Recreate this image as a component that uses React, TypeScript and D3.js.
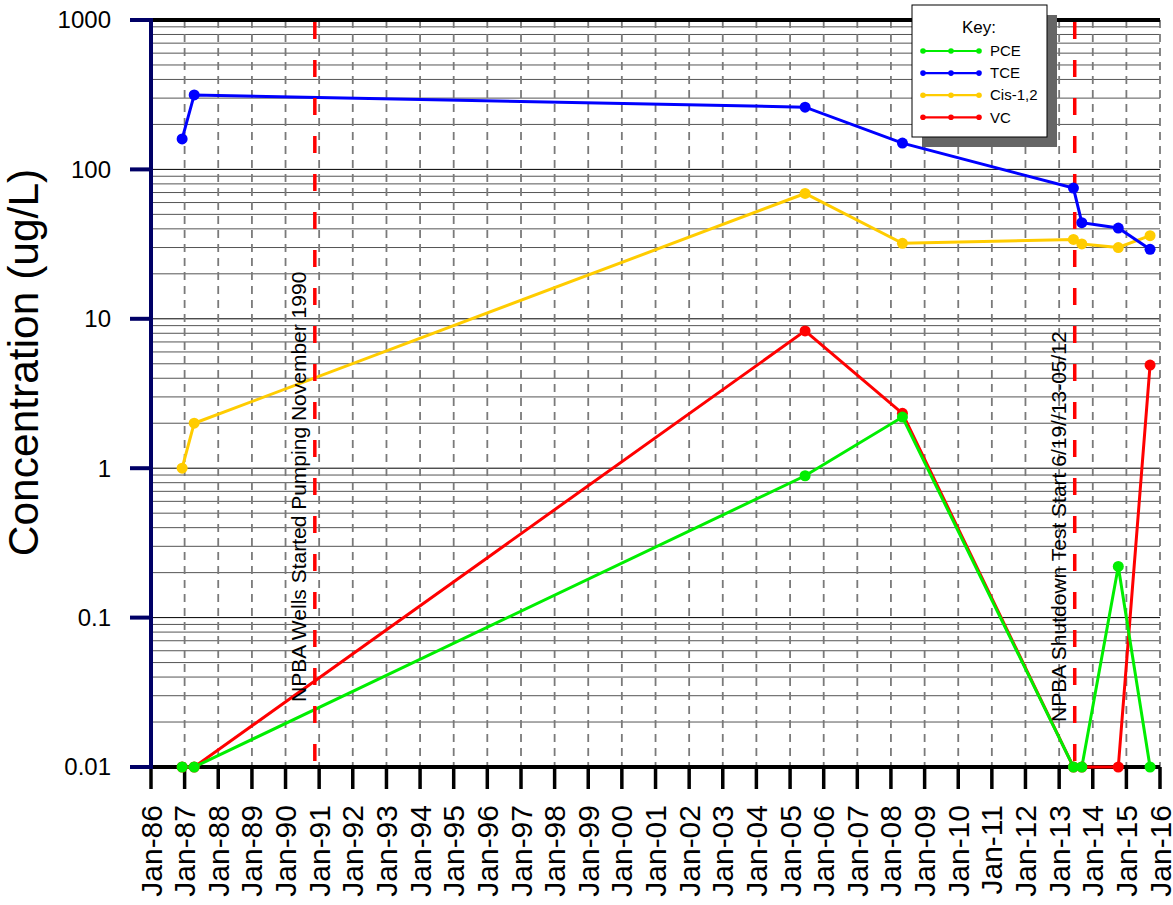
import React from "react";
import * as d3 from "d3";

// ---- data ----
const sampleDates = ["1986-12-05", "1987-04-15", "2005-06-13", "2008-05-05", "2013-06-05", "2013-09-04", "2014-10-05", "2015-09-15"];
const pceValues = [0.01, 0.01, 0.89, 2.2, 0.01, 0.01, 0.22, 0.01];
const tceValues = [160, 315, 261, 150, 75, 44, 40.5, 29.2];
const cisValues = [1.0, 2.0, 69, 32, 34, 31.7, 30, 36];
const vcValues = [0.01, 0.01, 8.3, 2.33, 0.01, 0.01, 0.01, 4.9];

const seriesNames = ["PCE", "TCE", "Cis-1,2", "VC"];
const seriesColors = ["#00ee00", "#0000ff", "#ffcc00", "#ff0000"];

const yTickValues = [0.01, 0.1, 1, 10, 100, 1000];
const yTickLabels = ["0.01", "0.1", "1", "10", "100", "1000"];

const eventDates = ["1990-11-15", "2013-06-19"];
const eventLabels = ["NPBA Wells Started Pumping November 1990", "NPBA Shutdown Test Start 6/19//13-05/12"];
const eventTextStart = [702, 722];

const xStart = "1986-01-01";
const xEnd = "2016-01-01";

const FONT = "'Liberation Sans', Arial, sans-serif";

export default function App() {
  const W = 1173, H = 905;
  const left = 151, right = 1160, top = 20, bottom = 767;
  const parse = d3.timeParse("%Y-%m-%d");
  const x = d3.scaleTime().domain([parse(xStart)!, parse(xEnd)!]).range([left, right]);
  const y = d3.scaleLog().domain([0.01, 1000]).range([bottom, top]);
  const dates = sampleDates.map((d) => parse(d)!);
  const allValues = [pceValues, tceValues, cisValues, vcValues];
  const years = x.ticks(d3.timeYear.every(1)!);
  const fmt = d3.timeFormat("%b-%y");

  // minor grid values
  const minor: number[] = [];
  for (let e = -2; e < 3; e++) {
    for (let m = 2; m <= 9; m++) minor.push(m * Math.pow(10, e));
  }
  const decades = [0.1, 1, 10, 100];

  const line = d3
    .line<[Date, number]>()
    .x((d) => x(d[0]))
    .y((d) => y(d[1]));

  const drawOrder = [3, 2, 1, 0];

  return (
    <svg width={W} height={H} style={{ position: "absolute", left: 0, top: 0, background: "#fff" }} fontFamily={FONT}>
      <rect x={0} y={0} width={W} height={H} fill="#fff" />
      {/* horizontal grid */}
      {minor.map((v, i) => (
        <line key={"m" + i} x1={left} x2={right} y1={y(v)} y2={y(v)} stroke="#555" strokeWidth={1} />
      ))}
      {decades.map((v, i) => (
        <line key={"d" + i} x1={left} x2={right} y1={y(v)} y2={y(v)} stroke="#000" strokeWidth={1} />
      ))}
      {/* vertical dashed grid */}
      {years.slice(1).map((d, i) => (
        <line key={"v" + i} x1={x(d)} x2={x(d)} y1={top} y2={bottom} stroke="#7a7a7a" strokeWidth={1.8} strokeDasharray="8,6" />
      ))}
      {/* top border */}
      <line x1={left} x2={right} y1={top} y2={top} stroke="#000" strokeWidth={4} />
      {/* bottom axis */}
      <line x1={left} x2={right} y1={bottom} y2={bottom} stroke="#000" strokeWidth={4} />
      {years.map((d, i) => (
        <line key={"xt" + i} x1={x(d)} x2={x(d)} y1={bottom} y2={bottom + 22} stroke="#000" strokeWidth={3.5} />
      ))}
      {years.map((d, i) => (
        <text
          key={"xl" + i}
          transform={`translate(${x(d)},805) rotate(-90)`}
          textAnchor="end"
          dy="0.35em"
          fontSize={30}
          fill="#000"
        >
          {fmt(d)}
        </text>
      ))}
      {/* left axis */}
      <line x1={left} x2={left} y1={top - 2} y2={bottom + 2} stroke="#000066" strokeWidth={4} />
      {yTickValues.map((v, i) => (
        <line key={"yt" + i} x1={130} x2={left} y1={y(v)} y2={y(v)} stroke="#000066" strokeWidth={4} />
      ))}
      {yTickValues.map((v, i) => (
        <text key={"yl" + i} x={111} y={y(v)} dy="0.35em" textAnchor="end" fontSize={24} fill="#000">
          {yTickLabels[i]}
        </text>
      ))}
      <text transform="translate(38,362.5) rotate(-90)" textAnchor="middle" fontSize={42.5} fill="#000">
        Concentration (ug/L)
      </text>

      {/* data lines */}
      {drawOrder.map((s) => (
        <path
          key={"l" + s}
          d={line(dates.map((d, i) => [d, allValues[s][i]] as [Date, number])) || ""}
          fill="none"
          stroke={seriesColors[s]}
          strokeWidth={3}
        />
      ))}

      {/* event lines */}
      {eventDates.map((d, i) => (
        <g key={"e" + i}>
          <line
            x1={x(parse(d)!)}
            x2={x(parse(d)!)}
            y1={top + 2}
            y2={bottom}
            stroke="#ff0000"
            strokeWidth={3.5}
            strokeDasharray="17,21"
          />
          <text
            transform={`translate(${x(parse(d)!) - 9},${eventTextStart[i]}) rotate(-90)`}
            fontSize={21}
            fill="#000"
          >
            {eventLabels[i]}
          </text>
        </g>
      ))}

      {/* markers */}
      {drawOrder.map((s) => (
        <g key={"p" + s}>
          {dates.map((d, i) => (
            <circle key={i} cx={x(d)} cy={y(allValues[s][i])} r={5.5} fill={seriesColors[s]} />
          ))}
        </g>
      ))}

      {/* legend */}
      <rect x={922} y={15} width={135} height={132} fill="#666" />
      <rect x={912} y={5} width={135} height={132} fill="#fff" stroke="#000" strokeWidth={1} />
      <text x={979} y={33} textAnchor="middle" fontSize={17} fill="#000">
        Key:
      </text>
      {seriesNames.map((n, i) => {
        const ry = 51 + i * 22.1;
        return (
          <g key={"lg" + i}>
            <line x1={923} x2={979} y1={ry} y2={ry} stroke={seriesColors[i]} strokeWidth={2.2} />
            {[923, 951, 979].map((cx) => (
              <circle key={cx} cx={cx} cy={ry} r={2.8} fill={seriesColors[i]} />
            ))}
            <text x={990} y={ry} dy="0.35em" fontSize={15} fill="#000">
              {n}
            </text>
          </g>
        );
      })}
    </svg>
  );
}
